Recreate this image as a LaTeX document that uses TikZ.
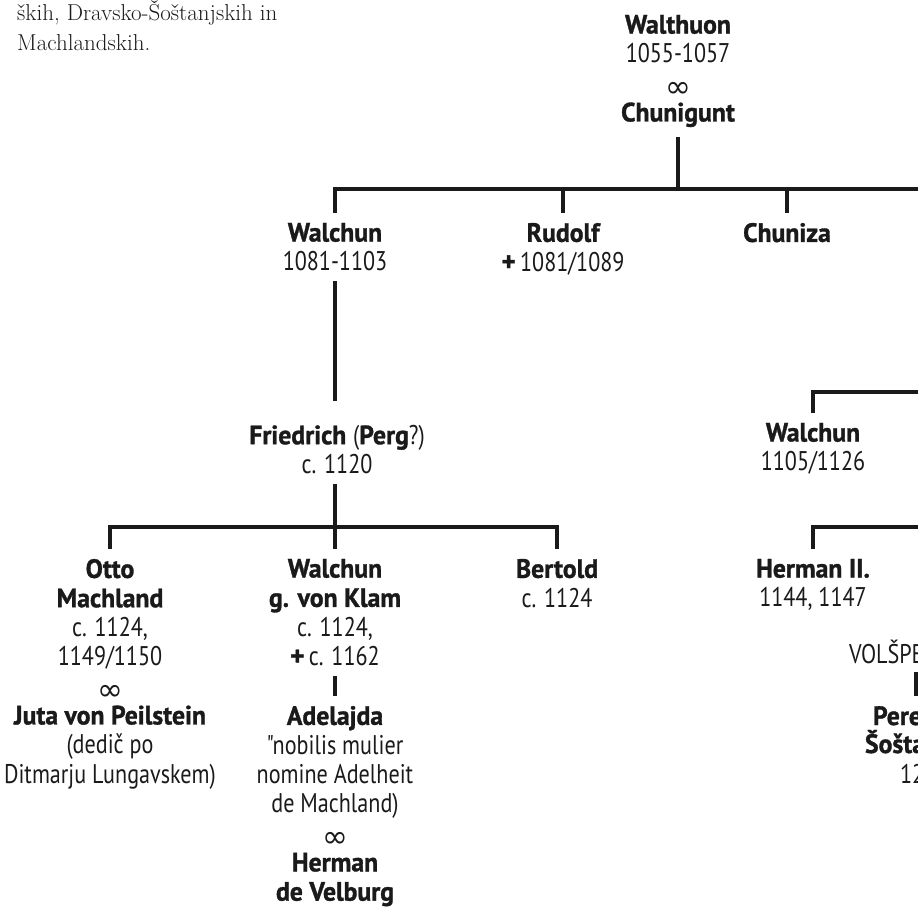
\documentclass[tikz,border=0pt]{standalone}
\usepackage{fontspec}
\newfontfamily\namefont[FakeStretch=0.97, BoldFeatures={FakeBold=1.2}]{PT Sans}
\newfontfamily\datefont[FakeStretch=0.82]{PT Sans}
\newfontfamily\symfont{DejaVu Sans}
\definecolor{ink}{HTML}{1A1A1A}
\newcommand{\pname}[1]{{\namefont\bfseries\fontsize{26.5}{29.3}\selectfont #1}}
\newcommand{\pdate}[1]{{\datefont\fontsize{27}{29.3}\selectfont #1}}
\newcommand{\marr}{\raisebox{-5pt}{\symfont\fontsize{31}{29.3}\selectfont ∞}}
\newcommand{\died}{{\namefont\bfseries\fontsize{28}{29.3}\selectfont+}\,}

\begin{document}
\begin{tikzpicture}[x=1pt, y=-1pt,
    person/.style={align=center, anchor=north, inner sep=0pt, outer xsep=0pt, outer ysep=10pt, text=ink, font=\namefont\fontsize{26}{29.3}\selectfont},
    cut/.style={anchor=base west, inner sep=0pt, outer xsep=0pt, outer ysep=10pt, text=ink},
    famline/.style={draw=ink, line width=4pt}]
    \useasboundingbox (0,0) rectangle (918,909);
    \clip (0,0) rectangle (918,909);

    \node[anchor=north west, inner sep=0pt, align=left, text=ink, font=\fontsize{23}{30}\selectfont] (intro) at (17,1) {ških, Dravsko-Šoštanjskih in\\Machlandskih.};

    % first generations
    \node[person] (walthuon) at (678,5) {\pname{Walthuon}\\\pdate{1055-1057}\\\marr\\\pname{Chunigunt}};
    \node[person] (walchunA) at (335,213) {\pname{Walchun}\\\pdate{1081-1103}};
    \node[person] (rudolf) at (563,213) {\pname{Rudolf}\\\died\pdate{1081/1089}};
    \node[person] (chuniza) at (787,213) {\pname{Chuniza}};
    \node[person] (friedrich) at (337,415) {\pname{Friedrich} \pdate{(}\pname{Perg}\pdate{?)}\\\pdate{c. 1120}};
    \node[person] (walchunB) at (813,413) {\pname{Walchun}\\\pdate{1105/1126}};

    % Machland line
    \node[person] (otto) at (110,549) {\pname{Otto}\\\pname{Machland}\\\pdate{c. 1124,}\\\pdate{1149/1150}\\\marr\\\pname{Juta von Peilstein}\\\pdate{(dedič po}\\\pdate{Ditmarju Lungavskem)}};
    \node[person] (walchunC) at (335,549) {\pname{Walchun}\\\pname{g. von Klam}\\\pdate{c. 1124,}\\\died\pdate{c. 1162}};
    \node[person] (bertold) at (557,549) {\pname{Bertold}\\\pdate{c. 1124}};
    \node[person] (adelajda) at (335,696) {\pname{Adelajda}\\\pdate{"nobilis mulier}\\\pdate{nomine Adelheit}\\\pdate{de Machland)}\\\marr\\\pname{Herman}\\\pname{de Velburg}};
    \node[person] (hermanII) at (813,549) {\pname{Herman II.}\\\pdate{1144, 1147}};

    % cut at the right edge
    \node[cut, font=\datefont\fontsize{27}{29.3}\selectfont] (volsp) at (849,663) {VOLŠPE};
    \node[cut, font=\namefont\bfseries\fontsize{26.5}{29.3}\selectfont] (pere) at (873,725) {Pere};
    \node[cut, font=\namefont\bfseries\fontsize{26.5}{29.3}\selectfont] (sosta) at (865,753) {Šošta};
    \node[cut, font=\datefont\fontsize{27}{29.3}\selectfont] (year) at (900,783) {12};

    \coordinate (busA) at (925,189);
    \coordinate (busB) at (925,392);
    \coordinate (busC) at (925,527);
    \coordinate (volcol) at (916,672);

    \draw[famline] (walthuon.south) -- (walthuon.south |- busA);
    \draw[famline] (walchunA.north) |- (busA);
    \draw[famline] (rudolf.north) -- (rudolf.north |- busA);
    \draw[famline] (chuniza.north) -- (chuniza.north |- busA);
    \draw[famline, shorten >=14pt] (walchunA.south) -- (friedrich.north -| walchunA.south);
    \draw[famline] (walchunB.north) |- (busB);
    \draw[famline] (friedrich.south -| walchunC.north) -- (walchunC.north);
    \draw[famline] (otto.north) |- (bertold.north |- busC) -- (bertold.north);
    \draw[famline] (walchunC.south) -- (adelajda.north);
    \draw[famline] (hermanII.north) |- (busC);
    \draw[famline] (volcol) -- (volcol |- pere.north);
\end{tikzpicture}
\end{document}
